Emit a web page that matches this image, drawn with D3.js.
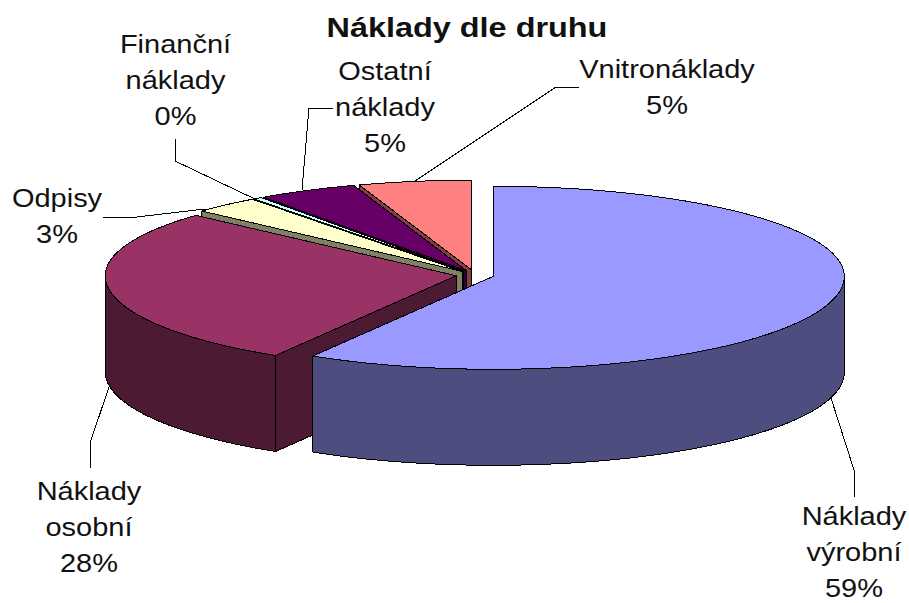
<!DOCTYPE html>
<html><head><meta charset="utf-8">
<style>html,body{margin:0;padding:0;background:#fff}svg{display:block}text{font-family:"Liberation Sans",Arial,sans-serif;fill:#111}</style>
<script src="https://cdn.jsdelivr.net/npm/d3@7/dist/d3.min.js"></script>
</head><body><svg id="c" width="909" height="603"></svg>
<script>
const title = "Náklady dle druhu";
const categories = ["Náklady výrobní","Náklady osobní","Odpisy","Finanční náklady","Ostatní náklady","Vnitronáklady"];
const values = [58.6,28.1,3.1,0.4,4.6,5.2];
const topColors = ["#9999FF","#993366","#FFFFCC","#CCFFFF","#660066","#FF8080"];
const sideColors = ["#4D4D80","#4D1A33","#808066","#668080","#330033","#804040"];

// layout only
const labelCenters = [[854,525],[89,500],[57,207],[175.5,53],[385,80],[667,78]];
const lineGap = 36, stretch = 1.16, titleStretch = 1.2;
const leaders = [
  [[831,398],[854,470],[854,497]],
  [[109,387],[90,443],[90,468]],
  [[103,217],[137,217],[205,209]],
  [[175,139],[175,161],[257,200]],
  [[302,190],[309,108],[333,108]],
  [[415,181],[556,87],[579,87]]
];
const cx = 475, cy = 275, rx = 351, ryBack = 90, ryFront = 93, depth = 96, explode = 19;
const k = ryBack / rx;

const svg = d3.select("#c");
const pie = d3.pie().value(d => d).sort(null);
const arcs = pie(values).map((a,i) => ({...a, i}));
const line = d3.line();

arcs.forEach(a => {
  const m = (a.startAngle + a.endAngle) / 2;
  a.ox = cx + explode * Math.sin(m);
  a.oy = cy - explode * Math.cos(m) * k;
});
const rim = (a, t) => {
  const c = Math.cos(t);
  return [a.ox + rx * Math.sin(t), a.oy - (c > 0 ? ryBack : ryFront) * c];
};
const down = p => [p[0], p[1] + depth];
const sweep = (lo, hi) => d3.range(0,91).map(j => lo + (hi-lo)*j/90);

const g = svg.append("g").attr("shape-rendering","crispEdges");
// back-to-front painter order
[...arcs].reverse().forEach(a => {
  const s = g.append("g");
  const sty = sel => sel.attr("fill", sideColors[a.i]).attr("stroke","#000").attr("stroke-width",1).attr("stroke-linejoin","round");
  const face = t => {
    const c = [a.ox,a.oy], r = rim(a,t);
    sty(s.append("path").attr("d", line([c,r,down(r),down(c)]) + "Z"));
  };
  if (Math.sin(a.startAngle) < -1e-6) face(a.startAngle);
  if (Math.sin(a.endAngle) > 1e-6) face(a.endAngle);
  const lo = Math.max(a.startAngle, Math.PI/2), hi = Math.min(a.endAngle, 3*Math.PI/2);
  if (hi > lo) {
    const topEdge = sweep(lo,hi).map(t => rim(a,t));
    const botEdge = topEdge.map(down).reverse();
    sty(s.append("path").attr("d", line(topEdge.concat(botEdge)) + "Z"));
  }
  const outline = [[a.ox,a.oy]].concat(sweep(a.startAngle,a.endAngle).map(t => rim(a,t)));
  s.append("path")
    .attr("d", line(outline) + "Z")
    .attr("fill", topColors[a.i])
    .attr("stroke","#000").attr("stroke-width",1);
});

// leaders
svg.append("g").selectAll("path").data(leaders).join("path")
  .attr("d", d => line(d)).attr("fill","none").attr("stroke","#000").attr("stroke-width",1)
  .attr("shape-rendering","crispEdges");

// labels
const labels = svg.append("g").selectAll("g").data(arcs).join("g")
  .attr("transform", d => `translate(${labelCenters[d.i][0]},${labelCenters[d.i][1]}) scale(${stretch},1)`);
labels.each(function(d){
  const lines = categories[d.i].split(" ").concat(Math.round(d.value) + "%");
  d3.select(this).selectAll("text").data(lines).join("text")
    .attr("y",(_,j)=>j*lineGap).attr("text-anchor","middle").attr("font-size",25).text(t=>t);
});
svg.append("text").attr("transform",`translate(467,37) scale(${titleStretch},1)`)
  .attr("text-anchor","middle").attr("font-size",27).attr("font-weight","bold").text(title);
</script></body></html>
